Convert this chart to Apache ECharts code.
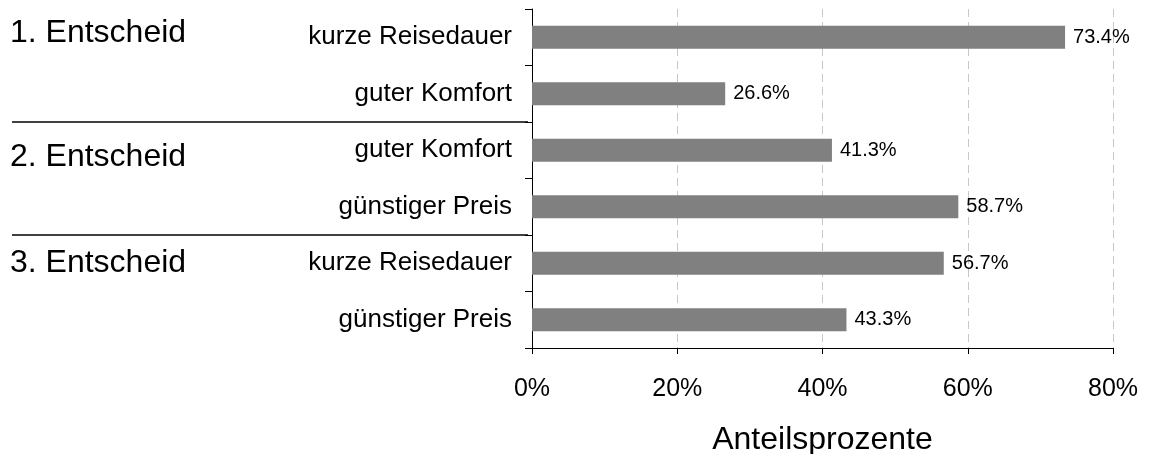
<!DOCTYPE html>
<html>
<head>
<meta charset="utf-8">
<script src="https://cdn.jsdelivr.net/npm/echarts@6/dist/echarts.min.js"></script>
<style>
html,body{margin:0;padding:0;background:#fff;overflow:hidden;}
#chart{width:1149px;height:454px;}
</style>
</head>
<body>
<div id="chart"></div>
<script>
// ---- data ----
const categories = ['kurze Reisedauer', 'guter Komfort', 'guter Komfort', 'günstiger Preis', 'kurze Reisedauer', 'günstiger Preis'];
const values = [73.4, 26.6, 41.3, 58.7, 56.7, 43.3];
const groupLabels = ['1. Entscheid', '2. Entscheid', '3. Entscheid'];
const xTicks = [0, 20, 40, 60, 80];
const xAxisTitle = 'Anteilsprozente';

const FONT = '"Liberation Sans", Arial, sans-serif';
const chart = echarts.init(document.getElementById('chart'), null, {renderer: 'canvas'});

const option = {
  animation: false,
  backgroundColor: '#ffffff',
  textStyle: {fontFamily: FONT, color: '#000'},
  grid: {left: 532, right: 36, top: 9, bottom: 106, containLabel: false, outerBoundsMode: 'none'},
  xAxis: {
    type: 'value',
    min: xTicks[0],
    max: xTicks[xTicks.length - 1],
    interval: xTicks[1] - xTicks[0],
    name: xAxisTitle,
    nameLocation: 'middle',
    nameGap: 76,
    nameTextStyle: {fontSize: 32, color: '#000', fontFamily: FONT},
    axisLine: {show: true, lineStyle: {color: '#000', width: 1}},
    axisTick: {show: true, length: 6, lineStyle: {color: '#000'}},
    axisLabel: {fontSize: 25, color: '#000', margin: 29, fontFamily: FONT, formatter: v => v + '%'},
    splitLine: {show: true, lineStyle: {color: '#c8c8c8', type: [8, 5], width: 1}}
  },
  yAxis: {
    type: 'category',
    inverse: true,
    data: categories,
    axisLine: {show: true, lineStyle: {color: '#000', width: 1}},
    axisTick: {show: true, length: 7, inside: false, lineStyle: {color: '#000'}},
    axisLabel: {fontSize: 26, color: '#000', margin: 20, fontFamily: FONT},
    splitLine: {show: false}
  },
  series: [{
    type: 'bar',
    data: values,
    barWidth: 23,
    itemStyle: {color: '#808080'},
    label: {
      show: true,
      position: 'right',
      distance: 8,
      fontSize: 20,
      color: '#000',
      fontFamily: FONT,
      formatter: p => p.value.toFixed(1) + '%'
    }
  }]
};
chart.setOption(option);

// separators between groups (at category boundaries) and group labels
const yOf = i => chart.convertToPixel({yAxisIndex: 0}, i);
const axisX = chart.convertToPixel({xAxisIndex: 0}, 0);
const elements = [];
[1, 3].forEach(i => {
  const y = Math.round((yOf(i) + yOf(i + 1)) / 2);
  elements.push({
    type: 'line',
    shape: {x1: 12, y1: y, x2: axisX - 4, y2: y},
    style: {stroke: '#000', lineWidth: 1.6}
  });
});
const groupY = [33, 157, 263];
groupLabels.forEach((t, g) => {
  elements.push({
    type: 'text',
    left: 10,
    top: groupY[g] - 16,
    style: {text: t, fontSize: 32, fontFamily: FONT, fill: '#000'}
  });
});
chart.setOption({graphic: {elements: elements}});
</script>
</body>
</html>
